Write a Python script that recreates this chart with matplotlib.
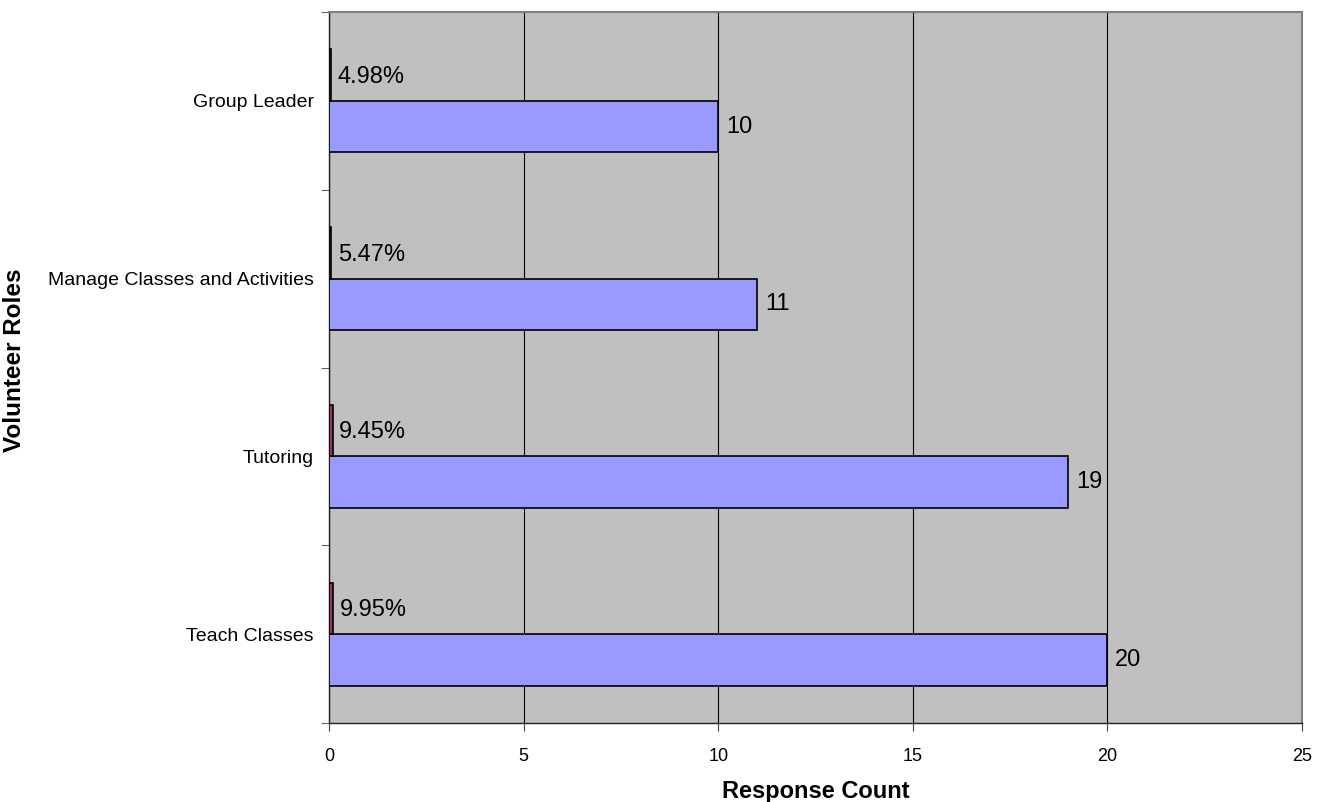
import matplotlib
matplotlib.use("Agg")
import matplotlib.pyplot as plt
import numpy as np

plt.rcParams['font.family'] = ['Liberation Sans', 'DejaVu Sans']

categories = ["Teach Classes", "Tutoring", "Manage Classes and Activities", "Group Leader"]
counts = [20, 19, 11, 10]
percents = [0.0995, 0.0945, 0.0547, 0.0498]
pct_labels = ["9.95%", "9.45%", "5.47%", "4.98%"]
xticks = [0, 5, 10, 15, 20, 25]

fig = plt.figure(figsize=(13.3, 8.02), dpi=100)
ax = fig.add_axes([329/1330, 1-723/802, (1302-329)/1330, (723-12)/802])
ax.set_facecolor('#C0C0C0')

y = np.arange(len(categories))
h = 0.29
ax.barh(y - h/2, counts, height=h, color='#9999FF', edgecolor='black', linewidth=1.2, zorder=3)
ax.barh(y + h/2, percents, height=h, color='#993366', edgecolor='black', linewidth=1.2, zorder=3)

for yi, c in zip(y, counts):
    ax.text(c + 0.2, yi - h/2, str(c), va='center', ha='left', fontsize=17, zorder=4)
for yi, p, lab in zip(y, percents, pct_labels):
    ax.text(p + 0.17, yi + h/2 - 0.01, lab, va='center', ha='left', fontsize=17, zorder=4)

ax.set_xlim(0, 25)
ax.set_ylim(-0.5, len(categories) - 0.5)
ax.set_xticks(xticks)
ax.set_xticklabels([str(t) for t in xticks], fontsize=13)
ax.set_yticks(y)
ax.set_yticklabels(categories, fontsize=14)
ax.set_yticks(np.arange(-0.5, len(categories), 1.0), minor=True)
ax.tick_params(axis='y', which='major', length=0, pad=11)
ax.tick_params(axis='y', which='minor', length=6, color='#404040')
ax.tick_params(axis='x', length=6, color='#404040', pad=12)

ax.xaxis.grid(True, color='black', linewidth=0.8, zorder=1)
ax.set_axisbelow(True)
for s in ['top', 'right']:
    ax.spines[s].set_color('#808080')
    ax.spines[s].set_linewidth(1.5)
for s in ['left', 'bottom']:
    ax.spines[s].set_color('#202020')
    ax.spines[s].set_linewidth(1.0)

ax.set_xlabel("Response Count", fontsize=17, fontweight='bold')
ax.set_ylabel("Volunteer Roles", fontsize=17.5, fontweight='bold')
ax.xaxis.set_label_coords((816 - 329) / 973, -(798 - 723) / 711)
ax.xaxis.label.set_va('baseline')
ax.yaxis.set_label_coords((26 - 329) / 973, 0.5 + 7.5 / 711)

fig.savefig("out.png", dpi=100)
